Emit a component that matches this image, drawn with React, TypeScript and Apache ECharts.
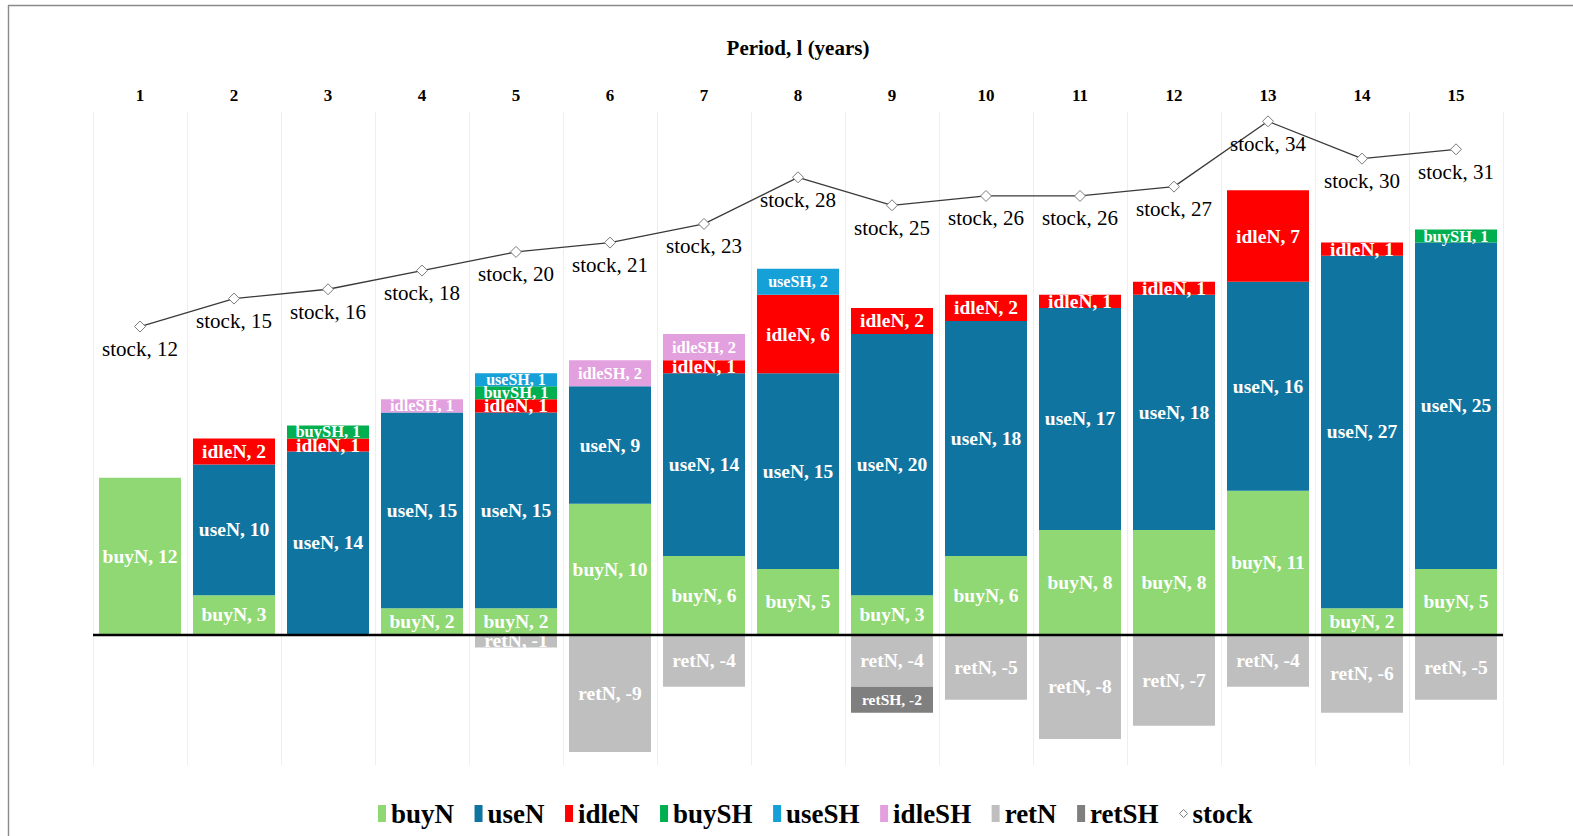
import React, { useEffect, useRef } from "react";
import * as echarts from "echarts";

const periods = ["1", "2", "3", "4", "5", "6", "7", "8", "9", "10", "11", "12", "13", "14", "15"];
const buyN = [12, 3, null, 2, 2, 10, 6, 5, 3, 6, 8, 8, 11, 2, 5];
const useN = [null, 10, 14, 15, 15, 9, 14, 15, 20, 18, 17, 18, 16, 27, 25];
const idleN = [null, 2, 1, null, 1, null, 1, 6, 2, 2, 1, 1, 7, 1, null];
const buySH = [null, null, 1, null, 1, null, null, null, null, null, null, null, null, null, 1];
const useSH = [null, null, null, null, 1, null, null, 2, null, null, null, null, null, null, null];
const idleSH = [null, null, null, 1, null, 2, 2, null, null, null, null, null, null, null, null];
const retN = [null, null, null, null, -1, -9, -4, null, -4, -5, -8, -7, -4, -6, -5];
const retSH = [null, null, null, null, null, null, null, null, -2, null, null, null, null, null, null];
const stock = [12, 15, 16, 18, 20, 21, 23, 28, 25, 26, 26, 27, 34, 30, 31];

const FONT = "'Liberation Serif', 'Times New Roman', serif";

const barSeries = [
  { name: "buyN", data: buyN, color: "#8fd873", size: 19.5 },
  { name: "useN", data: useN, color: "#0f75a0", size: 19.5 },
  { name: "idleN", data: idleN, color: "#ff0000", size: 19.5 },
  { name: "buySH", data: buySH, color: "#00b050", size: 16.5 },
  { name: "useSH", data: useSH, color: "#15a0d8", size: 16 },
  { name: "idleSH", data: idleSH, color: "#e3a0de", size: 16.5 },
  { name: "retN", data: retN, color: "#bfbfbf", size: 19.5 },
  { name: "retSH", data: retSH, color: "#7f7f7f", size: 15.5 },
];

export default function App() {
  const ref = useRef<HTMLDivElement>(null);

  useEffect(() => {
    if (!ref.current) return;
    const chart = echarts.init(ref.current, undefined, { renderer: "svg" });

    const series: any[] = barSeries.map((s) => ({
      name: s.name,
      type: "bar",
      stack: "total",
      barWidth: 82,
      data: s.data,
      itemStyle: { color: s.color },
      label: {
        show: true,
        position: "inside",
        color: "#ffffff",
        fontFamily: FONT,
        fontWeight: "bold",
        fontSize: s.size,
        formatter: (p: any) => `${p.seriesName}, ${p.value}`,
      },
      ...(s.name === "retN"
        ? {
            markLine: {
              silent: true,
              symbol: "none",
              label: { show: false },
              lineStyle: { color: "#000000", width: 2.4, type: "solid" },
              data: [{ yAxis: 0 }],
              z: 10,
            },
          }
        : {}),
    }));

    series.push({
      name: "stock",
      type: "line",
      yAxisIndex: 1,
      data: stock,
      symbol: "diamond",
      symbolSize: 11,
      z: 5,
      lineStyle: { color: "#3a3a3a", width: 1.3 },
      itemStyle: { color: "#ffffff", borderColor: "#7a7a7a", borderWidth: 1 },
      label: {
        show: true,
        position: "bottom",
        distance: 6,
        color: "#000000",
        fontFamily: FONT,
        fontSize: 21,
        formatter: (p: any) => `stock, ${p.value}`,
      },
    });

    chart.setOption({
      animation: false,
      backgroundColor: "#ffffff",
      grid: { left: 93, right: 70, top: 112, bottom: 71, containLabel: false },
      xAxis: {
        type: "category",
        position: "top",
        data: periods,
        name: "Period, l (years)",
        nameLocation: "middle",
        nameGap: 54,
        nameTextStyle: { fontFamily: FONT, fontWeight: "bold", fontSize: 21, color: "#000000" },
        axisLine: { show: false },
        axisTick: { show: false },
        axisLabel: { fontFamily: FONT, fontWeight: "bold", fontSize: 17, color: "#000000", margin: 8 },
        splitLine: { show: true, lineStyle: { color: "#eeeeee", width: 1 } },
      },
      yAxis: [
        { type: "value", min: -10, max: 40, show: false, splitLine: { show: false } },
        { type: "value", min: -35, max: 35, show: false, splitLine: { show: false } },
      ],
      legend: {
        left: 373,
        top: 795,
        itemWidth: 8,
        itemHeight: 17,
        itemGap: 20.5,
        textStyle: { fontFamily: FONT, fontWeight: "bold", fontSize: 27, color: "#000000" },
        data: [
          ...barSeries.map((s) => ({ name: s.name, icon: "rect" })),
          {
            name: "stock",
            icon: "path://M0,5L5,0L10,5L5,10Z",
            itemStyle: { color: "#ffffff", borderColor: "#7a7a7a", borderWidth: 1 },
          },
        ],
      },
      graphic: [
        { type: "line", shape: { x1: 8, y1: 5.5, x2: 1573, y2: 5.5 }, style: { stroke: "#8a8a8a", lineWidth: 1.4 } },
        { type: "line", shape: { x1: 8.5, y1: 5, x2: 8.5, y2: 836 }, style: { stroke: "#8a8a8a", lineWidth: 1.4 } },
      ],
      series,
    });

    return () => chart.dispose();
  }, []);

  return (
    <div
      ref={ref}
      style={{ position: "fixed", left: 0, top: 0, width: 1573, height: 836, background: "#ffffff" }}
    />
  );
}
